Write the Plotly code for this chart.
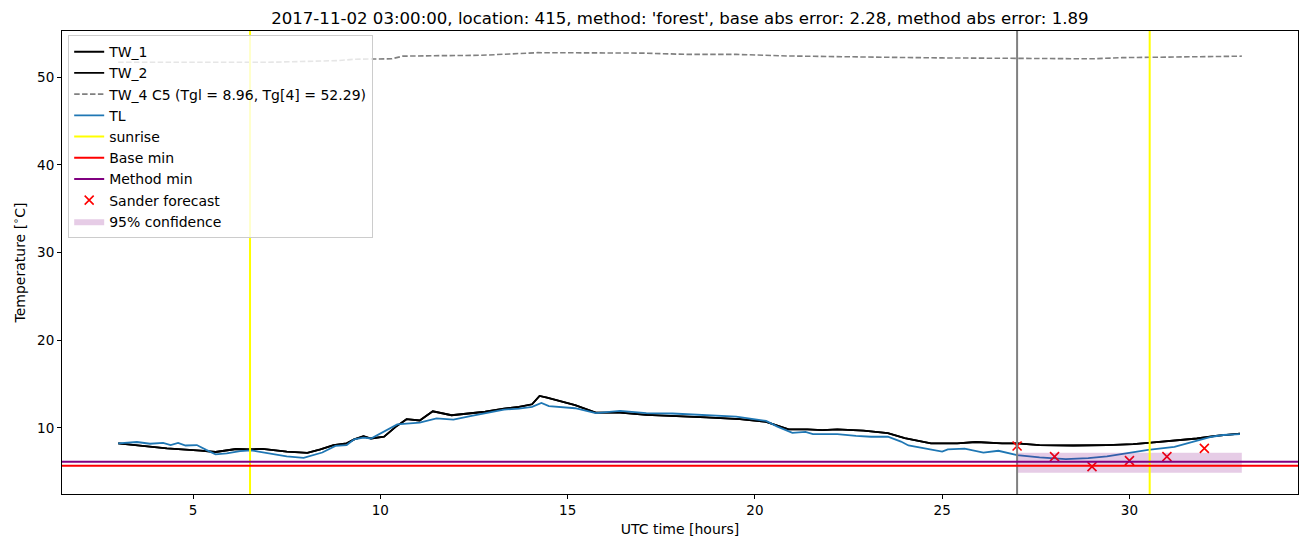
import plotly.graph_objects as go

# ---- data ----
tw1_hours = [3.0, 3.4, 4.3, 5.2, 5.6, 6.15, 6.5, 6.85, 7.5, 8.05, 8.4, 8.75, 9.1, 9.3, 9.55, 9.75,
             10.1, 10.4, 10.7, 11.05, 11.4, 11.9, 12.4, 12.8, 13.3, 13.7, 14.05, 14.25, 14.45,
             15.2, 15.75, 16.4, 17.1, 17.8, 18.7, 19.6, 20.3, 20.9, 21.4, 21.8, 22.2, 22.9,
             23.55, 24.0, 24.4, 24.7, 25.4, 25.9, 26.6, 27.0, 27.6, 28.5, 29.4, 30.1, 30.5,
             31.2, 31.8, 32.3, 32.95]
tw1_values = [8.25, 8.06, 7.68, 7.41, 7.26, 7.6, 7.55, 7.62, 7.3, 7.15, 7.55, 8.05, 8.25, 8.7, 9.05, 8.8,
              9.0, 10.1, 11.0, 10.85, 11.9, 11.45, 11.65, 11.85, 12.2, 12.4, 12.7, 13.65, 13.45,
              12.6, 11.75, 11.75, 11.5, 11.4, 11.2, 11.0, 10.7, 9.85, 9.85, 9.75, 9.85, 9.7,
              9.4, 8.85, 8.5, 8.25, 8.25, 8.4, 8.25, 8.25, 8.05, 8.0, 8.05, 8.15, 8.3,
              8.55, 8.8, 9.1, 9.35]
tw2_hours = tw1_hours
tw2_values = tw1_values

tw4_hours = [3.0, 5.0, 7.0, 8.9, 9.3, 10.3, 10.6, 11.4, 12.7, 14.2, 15.5, 17.0, 18.2, 19.5, 20.9,
             22.5, 23.6, 25.0, 26.2, 28.0, 29.0, 29.8, 31.0, 32.0, 33.0]
tw4_values = [51.7, 51.7, 51.7, 51.9, 52.05, 52.1, 52.4, 52.45, 52.5, 52.8, 52.75, 52.75, 52.6, 52.6,
              52.42, 52.3, 52.27, 52.2, 52.15, 52.07, 52.1, 52.23, 52.3, 52.35, 52.4]

tl_hours = [3.0, 3.5, 3.85, 4.2, 4.4, 4.6, 4.8, 5.1, 5.35, 5.6, 5.9, 6.25, 6.55, 7.05, 7.5, 7.95,
            8.1, 8.45, 8.8, 9.1, 9.3, 9.55, 9.75, 10.0, 10.2, 10.45, 10.7, 11.05, 11.5, 11.95,
            12.4, 12.8, 13.3, 13.7, 14.05, 14.3, 14.5, 15.2, 15.75, 16.4, 17.1, 17.8, 18.7,
            19.5, 20.3, 20.6, 21.0, 21.35, 21.55, 22.2, 22.7, 23.1, 23.55, 23.9, 24.1, 24.6,
            25.0, 25.15, 25.6, 26.1, 26.5, 27.0, 27.6, 28.3, 28.9, 29.4, 29.9, 30.5, 31.2,
            31.9, 32.2, 32.5, 32.95]
tl_values = [8.25, 8.4, 8.2, 8.3, 8.05, 8.3, 8.0, 8.05, 7.5, 7.0, 7.1, 7.35, 7.45, 7.05, 6.75, 6.6,
             6.8, 7.2, 7.95, 8.05, 8.7, 8.9, 8.8, 9.35, 9.8, 10.4, 10.5, 10.6, 11.1, 10.95,
             11.35, 11.65, 12.1, 12.2, 12.4, 12.85, 12.5, 12.25, 11.7, 11.95, 11.7, 11.65, 11.5,
             11.3, 10.8, 10.15, 9.45, 9.55, 9.3, 9.3, 9.1, 9.0, 9.0, 8.45, 8.0, 7.6,
             7.3, 7.55, 7.65, 7.2, 7.4, 6.9, 6.65, 6.45, 6.55, 6.75, 7.1, 7.5, 7.85,
             8.6, 9.0, 9.2, 9.3]

sunrise_hours = [6.52, 30.54]
forecast_hour = 27.0
base_min = 5.70
method_min = 6.14

sander_hours = [27, 28, 29, 30, 31, 32]
sander_values = [7.95, 6.73, 5.59, 6.27, 6.73, 7.68]

conf_start, conf_end = 27.0, 33.0
conf_low, conf_high = 4.9, 7.18

title = ("2017-11-02 03:00:00, location: 415, method: 'forest', "
         "base abs error: 2.28, method abs error: 1.89")

# ---- figure ----
fig = go.Figure()

fig.add_trace(go.Scatter(x=tw1_hours, y=tw1_values, mode="lines", name="TW_1",
                         line=dict(color="black", width=1.8)))
fig.add_trace(go.Scatter(x=tw2_hours, y=tw2_values, mode="lines", name="TW_2",
                         line=dict(color="black", width=1.8)))
fig.add_trace(go.Scatter(x=tw4_hours, y=tw4_values, mode="lines",
                         name="TW_4 C5 (Tgl = 8.96, Tg[4] = 52.29)",
                         line=dict(color="gray", width=1.6, dash="5.5px,2.4px")))
fig.add_trace(go.Scatter(x=tl_hours, y=tl_values, mode="lines", name="TL",
                         line=dict(color="#1f77b4", width=1.8)))

# sunrise vertical lines
for h in sunrise_hours:
    fig.add_shape(type="line", xref="x", yref="paper", x0=h, x1=h, y0=0, y1=1,
                  line=dict(color="yellow", width=2))
fig.add_trace(go.Scatter(x=[None], y=[None], mode="lines", name="sunrise",
                         line=dict(color="yellow", width=2)))

# forecast time line
fig.add_shape(type="line", xref="x", yref="paper", x0=forecast_hour, x1=forecast_hour,
              y0=0, y1=1, line=dict(color="gray", width=2))

# horizontal min lines
fig.add_shape(type="line", xref="paper", yref="y", x0=0, x1=1, y0=base_min, y1=base_min,
              line=dict(color="red", width=2))
fig.add_trace(go.Scatter(x=[None], y=[None], mode="lines", name="Base min",
                         line=dict(color="red", width=2)))
fig.add_shape(type="line", xref="paper", yref="y", x0=0, x1=1, y0=method_min, y1=method_min,
              line=dict(color="purple", width=2))
fig.add_trace(go.Scatter(x=[None], y=[None], mode="lines", name="Method min",
                         line=dict(color="purple", width=2)))

fig.add_trace(go.Scatter(x=sander_hours, y=sander_values, mode="markers", name="Sander forecast",
                         marker=dict(symbol="x-thin", size=9, color="red",
                                     line=dict(color="red", width=1.6))))

fig.add_trace(go.Scatter(x=[conf_start, conf_end, conf_end, conf_start, conf_start],
                         y=[conf_low, conf_low, conf_high, conf_high, conf_low],
                         mode="lines", fill="toself", fillcolor="rgba(128,0,128,0.2)",
                         line=dict(width=0, color="rgba(128,0,128,0)"),
                         name="95% confidence"))

axis_common = dict(showline=True, linecolor="black", linewidth=1, mirror=True,
                   ticks="outside", ticklen=4, tickcolor="black", showgrid=False,
                   zeroline=False, tickfont=dict(size=13.5, color="black"))

fig.update_layout(
    width=1310, height=547,
    margin=dict(l=62, r=12, t=31, b=53),
    paper_bgcolor="white", plot_bgcolor="white",
    font=dict(family="DejaVu Sans", color="black"),
    title=dict(text=title, x=0.519, xanchor="center", y=0.967, yanchor="middle",
               font=dict(size=16.6, color="black")),
    xaxis=dict(range=[1.5, 34.5], tickvals=[5, 10, 15, 20, 25, 30],
               title=dict(text="UTC time [hours]", font=dict(size=14), standoff=6),
               **axis_common),
    yaxis=dict(range=[2.47, 55.27], tickvals=[10, 20, 30, 40, 50],
               title=dict(text="Temperature [<sup>∘</sup>C]", font=dict(size=14), standoff=8),
               **axis_common),
    legend=dict(x=0.005, y=0.991, xanchor="left", yanchor="top",
                bgcolor="rgba(255,255,255,0.8)", bordercolor="#cccccc", borderwidth=1,
                font=dict(size=14, color="black"), tracegroupgap=0),
    showlegend=True,
)

fig.write_html("out.html")
